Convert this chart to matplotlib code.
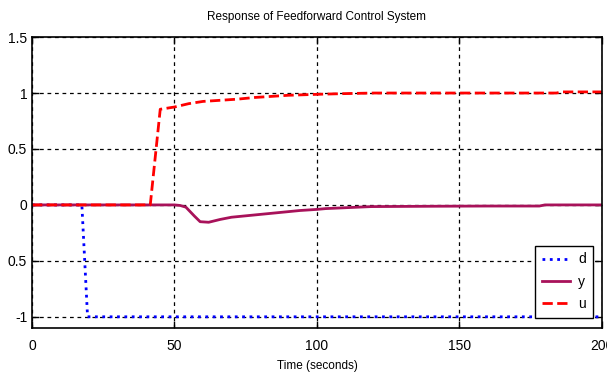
import numpy as np
import matplotlib
matplotlib.use('Agg')
from matplotlib import pyplot as plt

plt.rc('font', family='Liberation Sans')

# disturbance d
t_d = [0, 17.5, 19.5, 200]
d = [0, 0, -1, -1]

# output y
t_y = [0, 50, 52, 54, 57, 59, 62, 66, 70, 76, 82, 88, 94, 100, 103, 110, 119, 140, 160, 178, 180, 200]
y = [0, 0, -0.005, -0.02, -0.1, -0.15, -0.155, -0.13, -0.11, -0.095, -0.08, -0.065, -0.05, -0.04, -0.033, -0.025, -0.015, -0.012, -0.01, -0.01, 0, 0]

# control u
t_u = [0, 41.5, 45, 50, 55, 60, 66, 72, 78, 84, 90, 96, 102, 110, 120, 140, 160, 184, 186, 200]
u = [0, 0, 0.855, 0.875, 0.905, 0.925, 0.935, 0.945, 0.96, 0.97, 0.98, 0.985, 0.99, 0.995, 1.0, 1.0, 1.0, 1.0, 1.01, 1.01]

xticks = [0, 50, 100, 150, 200]
yticks = [-1, -0.5, 0, 0.5, 1, 1.5]
ytick_labels = ['-1', '0.5', '0', '0.5', '1', '1.5']

fig = plt.figure(figsize=(6.07, 3.72), dpi=100)
ax = fig.add_axes([0.0527, 0.1183, 0.939, 0.782])

ax.plot(t_d, d, ':', color='#0000ff', lw=2, label='d')
ax.plot(t_y, y, '-', color='#a8125a', lw=2, label='y')
ax.plot(t_u, u, '--', color='#ff0000', lw=2, label='u')

ax.set_xlim(0, 200)
ax.set_ylim(-1.1, 1.5)
ax.set_xticks(xticks)
ax.set_yticks(yticks)
ax.set_yticklabels(ytick_labels)
ax.tick_params(direction='in', labelsize=10, length=5, top=True, right=True, width=1)
ax.tick_params(axis='x', pad=8)
ax.grid(True, color='black', linestyle=(0, (3, 3)), linewidth=0.9)
for s in ax.spines.values():
    s.set_linewidth(1.2)

ax.set_title('Response of Feedforward Control System', fontsize=8.5, pad=12)
ax.set_xlabel('Time (seconds)', fontsize=8.5, labelpad=5)

leg = ax.legend(loc='lower right', bbox_to_anchor=(0.984, 0.034), borderaxespad=0,
                fontsize=10, fancybox=False, edgecolor='black', framealpha=1,
                handlelength=2.0, labelspacing=0.6, borderpad=0.5, handletextpad=0.6)
leg.get_frame().set_linewidth(1)

plt.savefig('out.png', dpi=100)
